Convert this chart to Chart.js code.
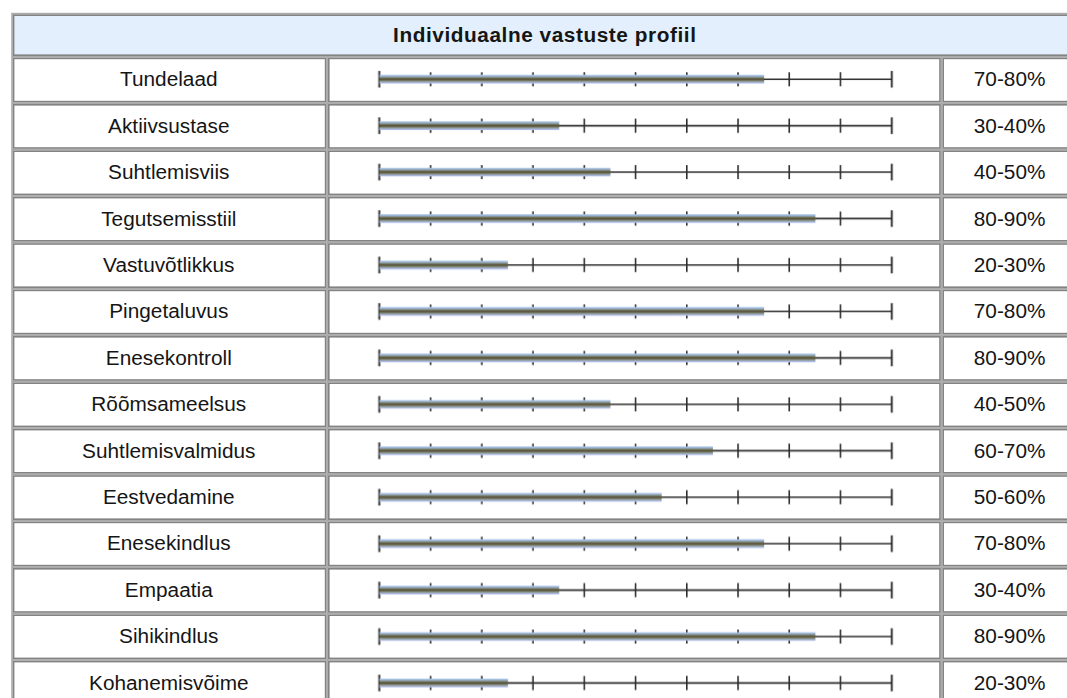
<!DOCTYPE html>
<html>
<head>
<meta charset="utf-8">
<script src="https://cdn.jsdelivr.net/npm/chart.js@4"></script>
<style>
  html, body { margin: 0; padding: 0; background: #fff; overflow: hidden; }
  #wrap { position: absolute; left: 0; top: 0; width: 700px; height: 450px; transform: scale(1.6); transform-origin: 0 0; }
  #profile { position: absolute; left: 6.5px; top: 7.5px; border: 0; border-spacing: 1px; background: #ababab;
             font-family: "Liberation Sans", Arial, sans-serif; font-size: 13px; color: #151515; }
  #profile td { border: 1px solid #838383; background: #fff; padding: 0; text-align: center; white-space: nowrap; }
  #profile td.head { background: #e3effc; font-weight: bold; letter-spacing: 0.35px; height: 24px; }
  #profile td.lbl { width: 194px; height: 26px; }
  #profile td.bar { width: 381px; height: 26px; }
  #profile td.pct { width: 83px; height: 26px; }
  #chartBox { position: absolute; left: 205.5px; top: 35px; width: 381px; height: 406px; }
</style>
</head>
<body>
<div id="wrap">
  <table id="profile"><tbody id="rows"></tbody></table>
  <div id="chartBox"><canvas id="profileChart"></canvas></div>
</div>
<script>
const title = 'Individuaalne vastuste profiil';
const categories = ['Tundelaad', 'Aktiivsustase', 'Suhtlemisviis', 'Tegutsemisstiil', 'Vastuvõtlikkus', 'Pingetaluvus',
  'Enesekontroll', 'Rõõmsameelsus', 'Suhtlemisvalmidus', 'Eestvedamine', 'Enesekindlus', 'Empaatia', 'Sihikindlus', 'Kohanemisvõime'];
const ranges = ['70-80%', '30-40%', '40-50%', '80-90%', '20-30%', '70-80%', '80-90%', '40-50%', '60-70%', '50-60%',
  '70-80%', '30-40%', '80-90%', '20-30%'];
// bar reaches the middle of each range
const values = [75, 35, 45, 85, 25, 75, 85, 45, 65, 55, 75, 35, 85, 25];
const tickValues = [0, 10, 20, 30, 40, 50, 60, 70, 80, 90, 100];

// table: header + one row per category
const body = document.getElementById('rows');
body.innerHTML = `<tr><td class="head" colspan="3">${title}</td></tr>` +
  categories.map((c, i) => `<tr><td class="lbl">${c}</td><td class="bar"></td><td class="pct">${ranges[i]}</td></tr>`).join('');

// scale line with ticks behind every bar
const scaleLines = {
  id: 'scaleLines',
  beforeDatasetsDraw(chart) {
    const { ctx, scales: { x, y } } = chart;
    const x0 = x.getPixelForValue(tickValues[0]);
    const x1 = x.getPixelForValue(tickValues[tickValues.length - 1]);
    ctx.save();
    ctx.strokeStyle = '#2e2e2e';
    categories.forEach((c, i) => {
      const yc = y.getPixelForValue(i);
      ctx.lineWidth = 1;
      ctx.beginPath();
      ctx.moveTo(x0, yc);
      ctx.lineTo(x1, yc);
      ctx.stroke();
      tickValues.forEach((v, k) => {
        const end = k === 0 || k === tickValues.length - 1;
        const h = end ? 5.2 : 4.4;
        const xp = x.getPixelForValue(v);
        ctx.lineWidth = end ? 1.2 : 1;
        ctx.beginPath();
        ctx.moveTo(xp, yc - h);
        ctx.lineTo(xp, yc + h);
        ctx.stroke();
      });
    });
    ctx.restore();
  }
};

function barFill(context) {
  const chart = context.chart;
  if (!chart.chartArea || !chart.scales.y) return '#5a543e';
  const yc = chart.scales.y.getPixelForValue(context.dataIndex);
  const g = chart.ctx.createLinearGradient(0, yc - 2.4, 0, yc + 2.4);
  g.addColorStop(0, '#a9c6ee');
  g.addColorStop(0.2, '#8fa0a8');
  g.addColorStop(0.38, '#6b6a4f');
  g.addColorStop(0.5, '#554e38');
  g.addColorStop(0.62, '#6b6a4f');
  g.addColorStop(0.8, '#929e9e');
  g.addColorStop(1, '#b2c0f0');
  return g;
}

new Chart(document.getElementById('profileChart'), {
  type: 'bar',
  data: {
    labels: categories,
    datasets: [{ data: values, backgroundColor: barFill, borderWidth: 0, barThickness: 4.8 }]
  },
  options: {
    indexAxis: 'y',
    responsive: true,
    maintainAspectRatio: false,
    devicePixelRatio: 1.6,
    animation: false,
    layout: { padding: { left: 31, right: 30, top: 0, bottom: 0 } },
    plugins: { legend: { display: false }, tooltip: { enabled: false } },
    scales: {
      x: { min: 0, max: 100, display: false },
      y: { display: false }
    }
  },
  plugins: [scaleLines]
});
</script>
</body>
</html>
